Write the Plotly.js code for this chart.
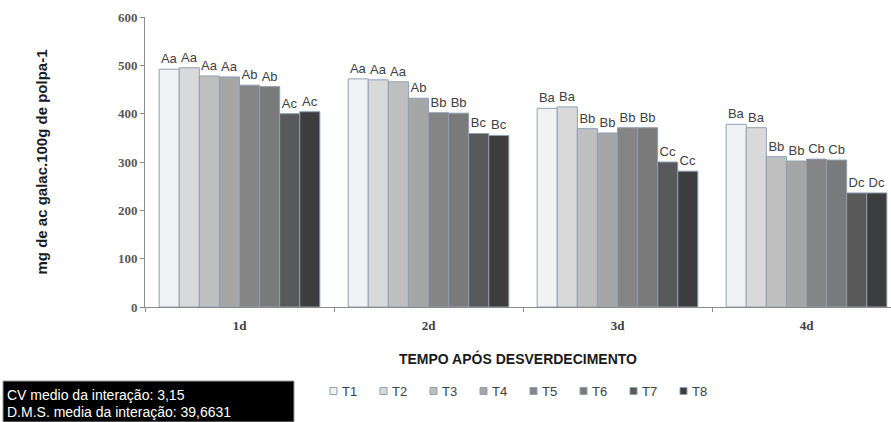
<!DOCTYPE html>
<html><head><meta charset="utf-8">
<script src="https://cdn.plot.ly/plotly-3.0.1.min.js"></script>
<style>html,body{margin:0;padding:0;background:#fff}#chart{width:891px;height:422px}</style>
</head><body><div id="chart"></div>
<script>
const categories = ["1d", "2d", "3d", "4d"];
const seriesNames = ["T1", "T2", "T3", "T4", "T5", "T6", "T7", "T8"];
const T1 = [492, 472, 411, 378];
const T2 = [495, 470, 414, 371];
const T3 = [478, 466, 369, 311];
const T4 = [476, 432, 360, 302];
const T5 = [459, 402, 371, 306];
const T6 = [456, 401, 371, 304];
const T7 = [400, 359, 300, 236];
const T8 = [404, 355, 281, 236];
const L1 = ["Aa", "Aa", "Ba", "Ba"];
const L2 = ["Aa", "Aa", "Ba", "Ba"];
const L3 = ["Aa", "Aa", "Bb", "Bb"];
const L4 = ["Aa", "Ab", "Bb", "Bb"];
const L5 = ["Ab", "Bb", "Bb", "Cb"];
const L6 = ["Ab", "Bb", "Bb", "Cb"];
const L7 = ["Ac", "Bc", "Cc", "Dc"];
const L8 = ["Ac", "Bc", "Cc", "Dc"];
const yTicks = [0, 100, 200, 300, 400, 500, 600];
const statLines = ["CV medio da interação: 3,15", "D.M.S. media da interação: 39,6631"];
const colors = ["#f1f2f4", "#d9d9d9", "#bfbfbf", "#a6a6a6", "#858585", "#7a7a7a", "#595959", "#3d3d3d"];

const values = [T1, T2, T3, T4, T5, T6, T7, T8];
const labels = [L1, L2, L3, L4, L5, L6, L7, L8];

// plot geometry (px)
const W = 891, H = 422, ML = 145, MT = 17, MB = 115;
const PW = W - ML, PH = H - MT - MB;
const catPx = 189;
const px2x = p => (p - ML) / PW;
const px2y = p => (H - MB - p) / PH;

const data = seriesNames.map((n, i) => ({
  type: "bar", name: n, x: categories, y: values[i],
  text: labels[i], textposition: "outside", cliponaxis: false,
  constraintext: "none",
  textfont: {family: "Liberation Sans, Arial, sans-serif", size: 13, color: "#404040"},
  marker: {color: colors[i], line: {color: "#8fa0b5", width: 1}},
  hoverinfo: "skip", showlegend: false
}));

const narrow = "Liberation Sans, Arial, sans-serif";
const shapes = [{type: "rect", xref: "paper", yref: "paper",
  x0: px2x(3), x1: px2x(294), y0: px2y(422), y1: px2y(381),
  fillcolor: "#000", line: {color: "#9a9a9a", width: 1}, layer: "above"}];
const annotations = statLines.map((t, k) => ({
  xref: "paper", yref: "paper", x: px2x(5), y: px2y(395 + 17 * k),
  xanchor: "left", yanchor: "middle", text: t, showarrow: false,
  font: {family: narrow, size: 14, color: "#fff"}
}));
// legend
seriesNames.forEach((n, i) => {
  const sx = 330 + i * 50;
  shapes.push({type: "rect", xref: "paper", yref: "paper",
    x0: px2x(sx), x1: px2x(sx + 7), y0: px2y(394.5), y1: px2y(387.5),
    fillcolor: colors[i], line: {color: "#8fa0b5", width: 1}, layer: "above"});
  annotations.push({xref: "paper", yref: "paper", x: px2x(sx + 10), y: px2y(391),
    xanchor: "left", yanchor: "middle", text: n, showarrow: false,
    font: {family: narrow, size: 13, color: "#404040"}});
});

const layout = {
  width: W, height: H,
  margin: {l: ML, r: 0, t: MT, b: MB},
  paper_bgcolor: "#fff", plot_bgcolor: "#fff",
  barmode: "group", bargap: 0.15, bargroupgap: 0,
  showlegend: false,
  font: {family: "Liberation Sans, Arial, sans-serif", color: "#404040"},
  xaxis: {
    range: [-0.5, -0.5 + PW / catPx],
    showline: true, linecolor: "#8c8c8c", linewidth: 1,
    ticks: "outside", tickson: "boundaries", ticklen: 4, tickcolor: "#8c8c8c",
    ticklabelstandoff: 6,
    tickfont: {family: "Liberation Serif, DejaVu Serif, serif", size: 13, color: "#404040", weight: "bold"},
    showgrid: false, zeroline: false,
    title: {text: "<b>TEMPO APÓS DESVERDECIMENTO</b>", standoff: 22,
      font: {family: "Liberation Sans, Arial, sans-serif", size: 14, color: "#1a1a1a"}}
  },
  yaxis: {
    range: [0, 600], tickvals: yTicks, ticktext: yTicks.map(String),
    showline: true, linecolor: "#8c8c8c", linewidth: 1,
    ticks: "outside", ticklen: 4, tickcolor: "#8c8c8c",
    showgrid: false, zeroline: false,
    tickfont: {family: "Liberation Serif, DejaVu Serif, serif", size: 13, color: "#595959", weight: "bold"},
    title: {text: "<b>mg de ac galac.100g de polpa-1</b>", standoff: 66,
      font: {family: "Liberation Sans, Arial, sans-serif", size: 15, color: "#1a1a1a"}}
  },
  shapes: shapes,
  annotations: annotations
};

Plotly.newPlot("chart", data, layout, {displayModeBar: false, staticPlot: true});
</script></body></html>
